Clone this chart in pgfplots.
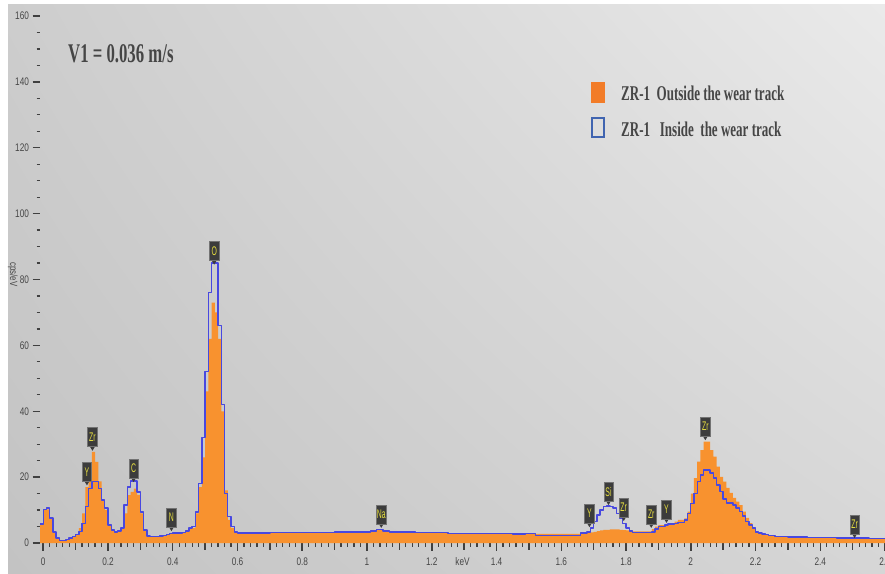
\documentclass[border=0pt]{standalone}
\usepackage{fontspec}
\usepackage{pgfplots}
\usepackage{pgfplotstable}
\pgfplotsset{compat=1.18}
\usetikzlibrary{shadings}
\setmainfont{Liberation Serif}
\newfontfamily\condserifbf[FakeStretch=0.62]{Liberation Serif Bold}
\newfontfamily\condsans[FakeStretch=0.75]{Liberation Sans}
\newfontfamily\lblsans[FakeStretch=0.55]{Liberation Sans}
\definecolor{orF}{HTML}{F8922F}
\definecolor{blL}{HTML}{4848E0}
\definecolor{lgBlue}{HTML}{4064B0}
\definecolor{lgOr}{HTML}{F27C28}
\definecolor{txt}{HTML}{464646}
\definecolor{lblbg}{HTML}{3C3C3C}
\definecolor{lblfg}{HTML}{E8E040}
\definecolor{bgUL}{HTML}{CDCDCD}
\definecolor{bgUR}{HTML}{EAEAEA}
\definecolor{bgLL}{HTML}{C3C3C3}
\definecolor{bgLR}{HTML}{D6D6D6}

\pgfplotstableread{
E B O
-0.01 5.8 5.8
0.00 10.2 10.0
0.01 10.6 10.2
0.02 7.6 7.4
0.03 3.4 3.4
0.04 1.5 1.6
0.05 0.8 0.9
0.06 0.8 0.9
0.07 1.1 1.2
0.08 1.5 1.5
0.09 2.0 2.0
0.10 2.6 2.6
0.11 3.5 4.5
0.12 6.0 9.0
0.13 11.0 17.0
0.14 16.6 19.5
0.15 18.6 27.7
0.16 18.6 24.6
0.17 16.6 18.7
0.18 13.0 13.0
0.19 10.6 10.0
0.20 5.5 5.5
0.21 4.0 4.0
0.22 3.4 3.2
0.23 3.6 3.4
0.24 4.6 4.5
0.25 11.5 9.0
0.26 17.0 14.5
0.27 18.8 15.5
0.28 18.8 16.5
0.29 15.5 14.6
0.30 9.4 9.0
0.31 4.0 4.0
0.32 2.1 2.0
0.33 1.9 1.8
0.34 1.9 1.8
0.35 2.0 1.9
0.36 2.1 2.0
0.37 2.3 2.2
0.38 2.5 2.4
0.39 2.8 2.7
0.40 3.0 2.9
0.43 3.2 3.0
0.44 3.6 3.4
0.45 4.5 4.2
0.46 5.0 4.5
0.47 9.4 9.0
0.48 18.0 17.0
0.49 32.0 26.0
0.50 52.0 46.0
0.51 76.0 62.0
0.52 85.0 73.0
0.53 85.0 70.0
0.54 66.0 62.0
0.55 42.0 40.0
0.56 15.0 16.0
0.57 8.0 7.0
0.58 5.0 4.5
0.59 3.4 3.2
0.60 3.0 2.9
0.70 3.1 3.1
0.80 3.2 3.2
0.90 3.3 3.3
0.98 3.4 3.4
1.01 3.7 3.6
1.03 4.1 3.9
1.05 3.7 3.6
1.07 3.4 3.3
1.15 3.1 3.1
1.25 2.9 2.9
1.35 2.8 2.8
1.45 2.7 2.7
1.49 2.9 2.8
1.52 2.3 2.8
1.66 3.0 2.9
1.68 3.4 3.0
1.69 4.5 3.2
1.70 6.5 3.4
1.71 8.5 3.6
1.72 10.0 3.8
1.73 11.0 4.0
1.74 11.2 4.0
1.75 11.0 4.1
1.76 10.6 4.1
1.77 9.0 4.1
1.78 7.6 4.0
1.79 6.0 3.9
1.80 4.5 3.8
1.81 3.7 3.7
1.82 3.1 3.5
1.88 3.4 4.2
1.89 4.2 5.0
1.90 5.0 5.4
1.92 5.5 5.8
1.93 5.8 6.0
1.95 6.0 6.5
1.96 6.3 7.0
1.98 7.0 7.5
1.99 9.0 9.5
2.00 12.0 15.0
2.01 15.0 19.7
2.02 18.6 24.7
2.03 20.6 28.2
2.04 22.2 30.8
2.05 22.2 30.8
2.06 21.2 28.2
2.07 19.7 26.2
2.08 17.6 23.2
2.09 15.6 20.1
2.10 13.4 18.6
2.11 12.1 16.7
2.12 12.1 15.2
2.13 11.5 13.7
2.14 10.6 12.6
2.15 9.5 11.5
2.16 8.2 9.5
2.17 6.5 7.6
2.18 5.5 6.0
2.19 4.5 4.5
2.20 3.4 3.4
2.21 3.0 3.0
2.22 2.7 2.7
2.23 2.5 2.4
2.24 2.3 2.2
2.26 2.0 1.9
2.30 1.8 1.7
2.36 1.6 1.5
2.45 1.5 1.4
2.55 1.4 1.3
2.60 1.4 1.3
}\spec

\tikzset{lbl/.style={fill=lblbg, draw=black!55, line width=0.5pt, text=lblfg,
  font=\lblsans\fontsize{12.5}{12}\selectfont, minimum width=9.5pt, minimum height=19pt, inner sep=0.8pt}}
\newcommand{\elab}[3]{%
  \fill[lblbg] (axis cs:#1,#2) -- ++(-2.4pt,4pt) -- ++(4.8pt,0pt) -- cycle;
  \node[lbl,anchor=south] at ([yshift=3.8pt]axis cs:#1,#2) {#3};}

\begin{document}
\begin{tikzpicture}[x=1pt,y=1pt]
\path[use as bounding box] (0,0) rectangle (885,573);
\fill[white] (0,0) rectangle (885,573);
\shade[upper left=bgUL, upper right=bgUR, lower left=bgLL, lower right=bgLR] (8,0) rectangle (885,568);
\begin{axis}[
  at={(40pt,30pt)}, anchor=south west,
  scale only axis, width=845pt, height=527pt,
  xmin=-0.01, xmax=2.6, ymin=0, ymax=160,
  axis line style={draw=none},
  clip=false,
  xtick={0,0.2,0.4,0.6,0.8,1,1.2,1.4,1.6,1.8,2,2.2,2.4,2.6},
  minor x tick num=9,
  extra x ticks={0.1,0.3,0.5,0.7,0.9,1.1,1.3,1.5,1.7,1.9,2.1,2.3,2.5},
  extra x tick labels={},
  extra x tick style={major tick length=6.5pt},
  ytick={0,20,...,160},
  minor y tick num=3,
  tick align=outside,
  xtick pos=bottom, ytick pos=left,
  major tick length=7.5pt, minor tick length=3.5pt,
  major tick style={draw=black!75, line width=1.5pt},
  minor tick style={draw=black!75, line width=1.2pt},
  ticklabel style={font=\condsans\fontsize{11}{12}\selectfont, text=txt},
  xticklabel style={yshift=-4pt},
  /pgf/number format/assume math mode=true,
  ylabel={cps/eV},
  ylabel style={font=\condsans\fontsize{10.5}{12}\selectfont, text=txt,
    at={(axis description cs:-0.032,0.51)}, anchor=center, rotate=-180},
]
\addplot[const plot, fill=orF, draw=none] table[x=E,y=O]{\spec} \closedcycle;
\addplot[const plot, draw=blL, line width=1.4pt, line join=round] table[x=E,y=B]{\spec};
\elab{0.135}{17.5}{Y}
\elab{0.152}{28}{Zr}
\elab{0.279}{18.5}{C}
\elab{0.396}{3.6}{N}
\elab{0.528}{84.5}{O}
\elab{1.044}{4.6}{Na}
\elab{1.687}{4.8}{Y}
\elab{1.746}{11.5}{Si}
\elab{1.793}{6.7}{Zr}
\elab{1.878}{4.6}{Zr}
\elab{1.925}{6.1}{Y}
\elab{2.045}{31.2}{Zr}
\elab{2.506}{1.5}{Zr}
\end{axis}
\node[anchor=center, text=txt, font=\condsans\fontsize{11}{12}\selectfont] at (462.5,11) {keV};
\node[anchor=base west, inner sep=0pt, text=txt, font=\condserifbf\fontsize{27}{30}\selectfont] at (68,510) {V1 = 0.036 m/s};
\fill[lgOr] (591,470) rectangle (605,491);
\draw[lgBlue, line width=1.6pt] (591.8,435.8) rectangle (604.2,455.2);
\node[anchor=base west, inner sep=0pt, text=txt, font=\condserifbf\fontsize{21}{24}\selectfont] at (621,472) {ZR-1\ \ Outside the wear track};
\node[anchor=base west, inner sep=0pt, text=txt, font=\condserifbf\fontsize{21}{24}\selectfont] at (621,436) {ZR-1\ \ \ Inside\ \ the wear track};
\end{tikzpicture}
\end{document}
